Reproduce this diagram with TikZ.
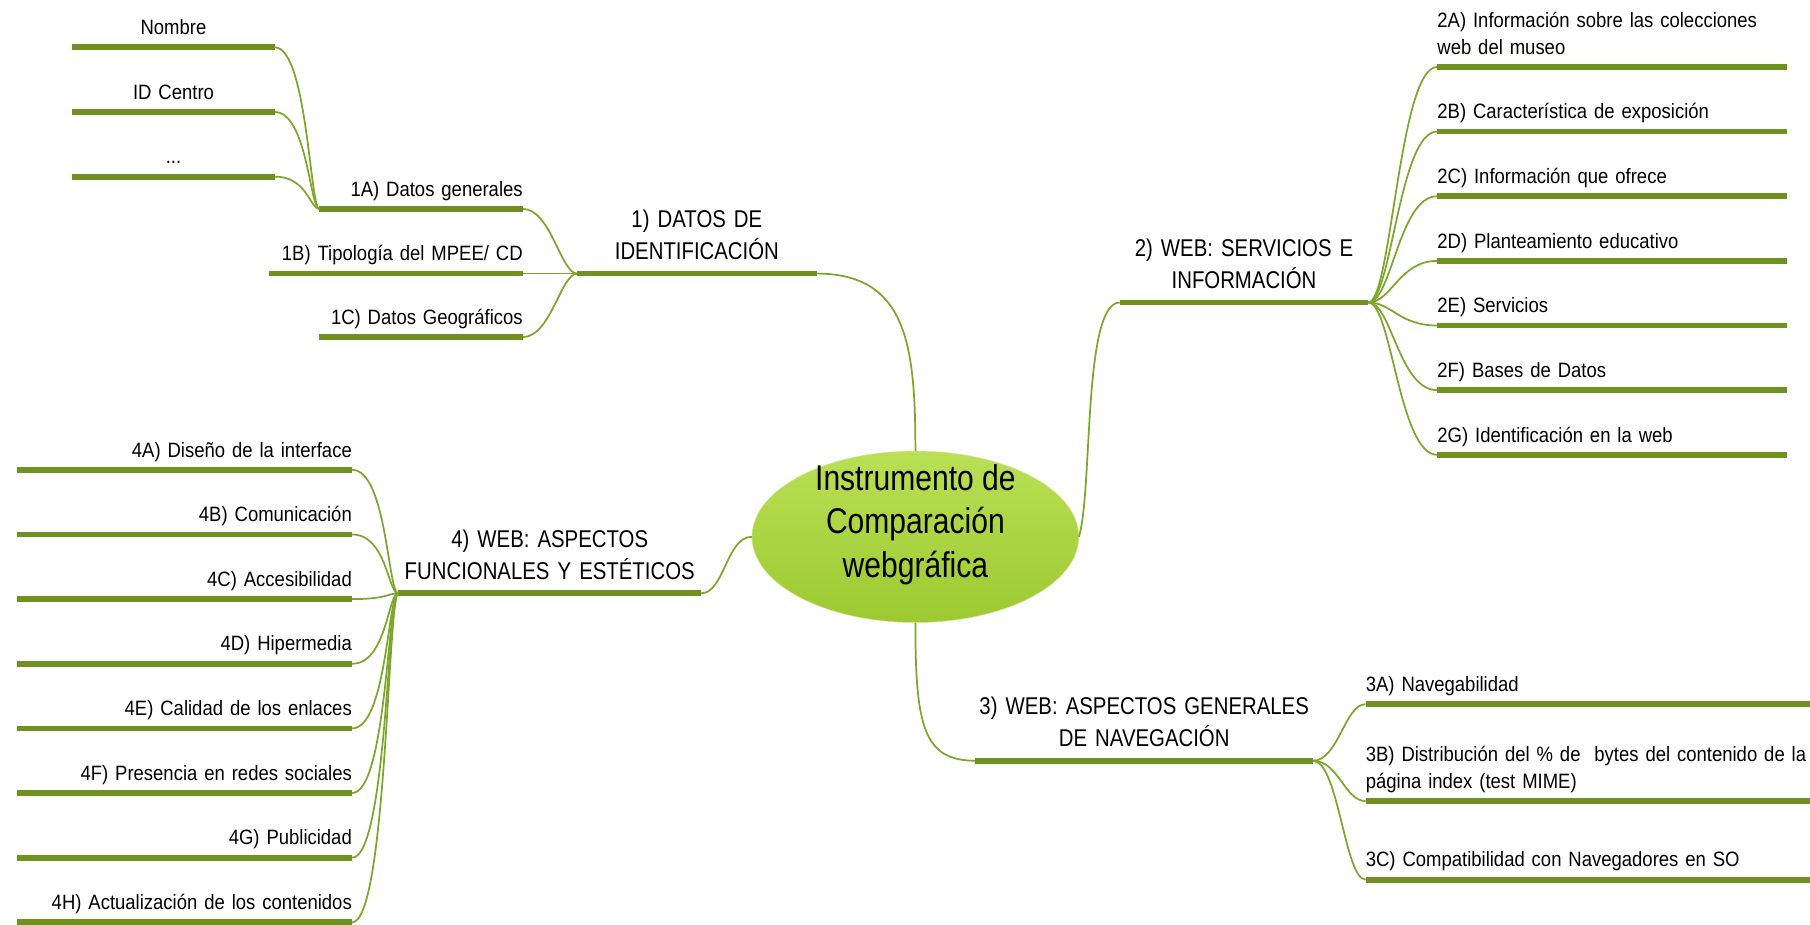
\documentclass[tikz,border=0pt]{standalone}
\usepackage{fontspec}
\setmainfont{Liberation Sans}[FakeStretch=0.89]
\newfontfamily\topicfont{Liberation Sans}[FakeStretch=0.84]
\usepackage{tikz}
\usetikzlibrary{shapes,positioning,calc}
\definecolor{barGreen}{RGB}{110,145,32}
\definecolor{twigGreen}{RGB}{125,166,44}
\definecolor{ideaTop}{RGB}{186,224,86}
\definecolor{ideaBottom}{RGB}{156,201,48}
\tikzset{
    bar/.style={
        line width=5pt,
        draw=barGreen,
    },
    underlined/.style={
        append after command={(\tikzlastnode.south west) edge[bar] (\tikzlastnode.south east)},
    },
    idea/.style={
        ellipse,
        thin,
        draw=ideaTop!70!white,
        top color=ideaTop,
        bottom color=ideaBottom,
        minimum width=283pt,
        minimum height=146pt,
        inner sep=0pt,
        align=center,
        text height=88pt,
        text depth=17pt,
        font=\topicfont\fontsize{31pt}{38pt}\selectfont,
    },
    topic/.style={
        underlined,
        inner xsep=0pt,
        inner ysep=3.5pt,
        align=center,
        execute at end node=\strut,
        font=\topicfont\fontsize{21pt}{28pt}\selectfont,
    },
    subtopic/.style={
        underlined,
        inner xsep=0pt,
        inner ysep=4pt,
        execute at end node=\strut,
        font=\fontsize{18pt}{23pt}\selectfont,
    },
    twig/.style 2 args={
        draw=twigGreen,
        line width=1.5pt,
        out=0,
        in=180,
        out distance=#1,
        in distance=#2,
    },
}

\begin{document}
\begin{tikzpicture}[x=1pt, y=-1pt]

\useasboundingbox (0,0) rectangle (1568,801.3);

% central idea
\node [idea] (c) at (793,465) {Instrumento de\\Comparación\\webgráfica};

% 1) DATOS DE IDENTIFICACION
\node [topic, text width=207pt, anchor=south west] (b1) at (500,237) {1) DATOS DE\\IDENTIFICACIÓN};
\node [subtopic, text width=176pt, align=right, anchor=south east] (d1a) at (453,181) {1A) Datos generales};
\node [subtopic, text width=220pt, align=right, anchor=south east] (d1b) at (453,237) {1B) Tipología del MPEE/ CD};
\node [subtopic, text width=176pt, align=right, anchor=south east] (d1c) at (453,292) {1C) Datos Geográficos};
\node [subtopic, text width=175pt, align=center, anchor=south east] (e1) at (238,41) {Nombre};
\node [subtopic, text width=175pt, align=center, anchor=south east] (e2) at (238,97) {ID Centro};
\node [subtopic, text width=175pt, align=center, anchor=south east] (e3) at (238,153) {...};

% 2) WEB: SERVICIOS E INFORMACION
\node [topic, text width=215pt, anchor=south west] (b2) at (970,262) {2) WEB: SERVICIOS E\\INFORMACIÓN};
\node [subtopic, text width=303pt, align=left, anchor=south west] (d2a) at (1245,58) {2A) Información sobre las colecciones\\web del museo};
\node [subtopic, text width=303pt, align=left, anchor=south west] (d2b) at (1245,114) {2B) Característica de exposición};
\node [subtopic, text width=303pt, align=left, anchor=south west] (d2c) at (1245,170) {2C) Información que ofrece};
\node [subtopic, text width=303pt, align=left, anchor=south west] (d2d) at (1245,226) {2D) Planteamiento educativo};
\node [subtopic, text width=303pt, align=left, anchor=south west] (d2e) at (1245,282) {2E) Servicios};
\node [subtopic, text width=303pt, align=left, anchor=south west] (d2f) at (1245,338) {2F) Bases de Datos};
\node [subtopic, text width=303pt, align=left, anchor=south west] (d2g) at (1245,394) {2G) Identificación en la web};

% 3) WEB: ASPECTOS GENERALES DE NAVEGACION
\node [topic, text width=292pt, anchor=south west] (b3) at (845,659) {3) WEB: ASPECTOS GENERALES\\DE NAVEGACIÓN};
\node [subtopic, text width=400pt, align=left, anchor=south west] (d3a) at (1183,610) {3A) Navegabilidad};
\node [subtopic, text width=400pt, align=left, anchor=south west] (d3b) at (1183,694) {3B) Distribución del \% de\ \ bytes del contenido de la\\página index (test MIME)};
\node [subtopic, text width=400pt, align=left, anchor=south west] (d3c) at (1183,762) {3C) Compatibilidad con Navegadores en SO};

% 4) WEB: ASPECTOS FUNCIONALES Y ESTETICOS
\node [topic, text width=262pt, anchor=south west] (b4) at (345,514) {4) WEB: ASPECTOS\\FUNCIONALES Y ESTÉTICOS};
\node [subtopic, text width=290pt, align=right, anchor=south east] (d4a) at (305,407) {4A) Diseño de la interface};
\node [subtopic, text width=290pt, align=right, anchor=south east] (d4b) at (305,463) {4B) Comunicación};
\node [subtopic, text width=290pt, align=right, anchor=south east] (d4c) at (305,519) {4C) Accesibilidad};
\node [subtopic, text width=290pt, align=right, anchor=south east] (d4d) at (305,575) {4D) Hipermedia};
\node [subtopic, text width=290pt, align=right, anchor=south east] (d4e) at (305,631) {4E) Calidad de los enlaces};
\node [subtopic, text width=290pt, align=right, anchor=south east] (d4f) at (305,687) {4F) Presencia en redes sociales};
\node [subtopic, text width=290pt, align=right, anchor=south east] (d4g) at (305,743) {4G) Publicidad};
\node [subtopic, text width=290pt, align=right, anchor=south east] (d4h) at (305,799) {4H) Actualización de los contenidos};

% main branches
\draw [draw=twigGreen, line width=1.5pt]
    (b1.south east) .. controls +(78,0) and +(0,-92) .. (c.north)
    (c.east) .. controls +(12,-40) and +(-32,0) .. (b2.south west)
    (c.south) .. controls +(0,90) and +(-45,0) .. (b3.south west)
    (b4.south east) .. controls +(20,0) and +(-22,0) .. (c.west);

% twigs
\path
    (d1a.south east) edge [twig={24pt}{14pt}] (b1.south west)
    (d1b.south east) edge [twig={24pt}{14pt}] (b1.south west)
    (d1c.south east) edge [twig={24pt}{14pt}] (b1.south west)
    (e1.south east) edge [twig={28pt}{8pt}] (d1a.south west)
    (e2.south east) edge [twig={28pt}{8pt}] (d1a.south west)
    (e3.south east) edge [twig={28pt}{8pt}] (d1a.south west);
\path
    (b2.south east) edge [twig={20pt}{33pt}] (d2a.south west)
    (b2.south east) edge [twig={20pt}{33pt}] (d2b.south west)
    (b2.south east) edge [twig={20pt}{33pt}] (d2c.south west)
    (b2.south east) edge [twig={20pt}{33pt}] (d2d.south west)
    (b2.south east) edge [twig={20pt}{33pt}] (d2e.south west)
    (b2.south east) edge [twig={20pt}{33pt}] (d2f.south west)
    (b2.south east) edge [twig={20pt}{33pt}] (d2g.south west);
\path
    (b3.south east) edge [twig={22pt}{18pt}] (d3a.south west)
    (b3.south east) edge [twig={22pt}{18pt}] (d3b.south west)
    (b3.south east) edge [twig={22pt}{18pt}] (d3c.south west);
\path
    (d4a.south east) edge [twig={30pt}{9pt}] (b4.south west)
    (d4b.south east) edge [twig={30pt}{9pt}] (b4.south west)
    (d4c.south east) edge [twig={30pt}{9pt}] (b4.south west)
    (d4d.south east) edge [twig={30pt}{9pt}] (b4.south west)
    (d4e.south east) edge [twig={30pt}{9pt}] (b4.south west)
    (d4f.south east) edge [twig={30pt}{9pt}] (b4.south west)
    (d4g.south east) edge [twig={30pt}{9pt}] (b4.south west)
    (d4h.south east) edge [twig={30pt}{9pt}] (b4.south west);

\end{tikzpicture}
\end{document}
